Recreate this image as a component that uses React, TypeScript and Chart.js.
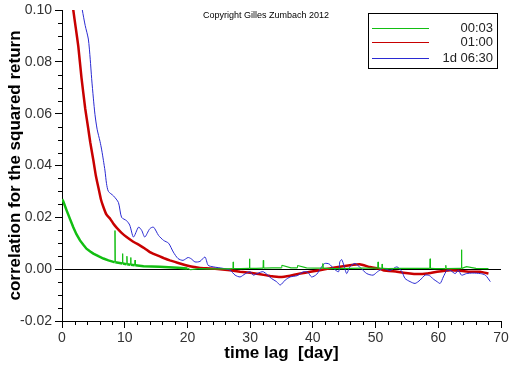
import React, { useEffect, useRef } from "react";
import { Chart, registerables } from "chart.js";

Chart.register(...registerables);

const SERIES_LABELS = ["00:03", "01:00", "1d 06:30"];
const COPYRIGHT = "Copyright Gilles Zumbach 2012";
const X_TITLE = "time lag  [day]";
const Y_TITLE = "correlation for the squared return";

const GREEN_X = [0,0.2,0.75,1.3,1.8,2.3,2.87,3.4,3.9,4.5,5.0,5.8,6.6,7.4,8.2,8.4,8.45,8.5,9.2,9.6,9.65,9.7,10.3,10.35,10.4,10.9,10.95,11.0,11.6,11.65,11.7,13.0,14.3,15.6,17.0,18.5,20.0,20.5,22.0,24.0,26.0,27.25,27.3,27.35,28.5,29.85,29.9,29.95,31.0,32.05,32.1,32.15,33.5,34.5,35.0,35.05,36.5,37.5,37.55,39.0,40.5,41.55,41.6,41.65,43.0,46.0,48.0,50.35,50.4,50.45,51.0,51.05,51.1,52.0,54.0,56.0,58.65,58.7,58.75,59.5,61.15,61.2,61.25,63.65,63.7,63.75,64.5,66.0,68.0];
const GREEN_Y = [0.0270,0.0262,0.0226,0.0192,0.0162,0.0135,0.0111,0.0094,0.0079,0.0068,0.0060,0.0050,0.0041,0.0034,0.0028,0.0027,0.0149,0.0027,0.0024,0.0022,0.0060,0.0022,0.0019,0.0050,0.0019,0.0017,0.0045,0.0017,0.0015,0.0035,0.0015,0.0011,0.0010,0.0009,0.0007,0.0005,0.0003,-0.0002,0.0002,0.0001,0.0001,0.0002,0.0028,0.0002,0.0002,0.0003,0.0040,0.0003,0.0003,0.0004,0.0034,0.0004,0.0005,0.0005,0.0005,0.0015,0.0005,0.0005,0.0014,0.0005,0.0004,0.0004,0.0022,0.0004,0.0002,0.0003,0.0004,0.0004,0.0028,0.0004,0.0003,0.0020,0.0003,0.0002,0.0003,0.0003,0.0003,0.0040,0.0003,0.0002,0.0002,0.0015,0.0002,0.0003,0.0075,0.0003,0.0010,0.0003,0.0002];

const RED_X = [1.5,1.8,2.2,2.6,3.1,3.7,4.2,4.5,5.0,5.4,5.8,6.2,6.6,7.1,7.7,8.2,8.7,9.5,10.3,11.3,12.4,13.2,14.0,14.8,15.6,16.4,17.2,18.0,18.8,19.6,20.4,21.2,22.0,23.6,25.2,26.8,28.4,30.0,31.6,33.2,34.8,36.4,38.0,39.6,41.1,42.7,44.3,45.9,47.5,49.1,50.4,51.2,53.4,55.5,56.6,58.2,59.8,61.9,63.5,65.1,66.7,68.0];
const RED_Y = [0.108,0.100,0.093,0.086,0.074,0.062,0.054,0.049,0.042,0.036,0.0315,0.027,0.024,0.021,0.0194,0.0175,0.016,0.014,0.0124,0.0107,0.0092,0.0080,0.0066,0.0057,0.0049,0.0041,0.0034,0.0028,0.0022,0.0016,0.0011,0.0008,0.0005,0.0003,0.0000,-0.0004,-0.0010,-0.0014,-0.0020,-0.0026,-0.0030,-0.0025,-0.0017,-0.0010,-0.0004,0.0003,0.0009,0.0015,0.0019,0.0008,0.0003,-0.0004,-0.0010,-0.0017,-0.0019,-0.0017,-0.0010,-0.0004,-0.0006,-0.0010,-0.0010,-0.0017];

const BLUE_X = [3.0,3.24,3.7,4.2,4.5,4.73,5.0,5.26,5.6,6.06,6.33,6.6,6.86,7.1,7.4,8.2,9.0,9.5,10.3,10.8,11.4,12.2,12.7,13.2,14.0,14.6,15.4,16.2,17.0,17.75,18.5,19.3,20.1,20.6,21.2,22.0,22.8,23.3,24.1,25.7,26.8,27.6,28.4,29.2,30.0,30.5,31.2,32.1,33.4,34.2,34.8,35.6,36.4,37.5,38.5,39.2,39.8,40.6,41.4,41.9,42.6,43.3,44.1,44.3,44.6,45.0,45.4,45.9,46.7,47.6,48.6,49.6,50.3,51.2,52.3,53.4,54.2,54.7,55.5,56.3,57.1,57.9,58.6,59.2,59.8,60.3,60.8,61.4,62.0,62.7,63.2,63.7,64.5,65.5,66.7,67.5,68.3];
const BLUE_Y = [0.104,0.100,0.094,0.0888,0.081,0.0735,0.066,0.0596,0.054,0.0493,0.046,0.042,0.0379,0.033,0.030,0.0283,0.0257,0.020,0.0187,0.017,0.0124,0.0162,0.0150,0.0124,0.0156,0.0162,0.0130,0.0111,0.0100,0.0066,0.0041,0.0034,0.0045,0.0040,0.0028,0.0030,0.0047,0.0015,0.0009,0.0003,-0.0004,-0.0023,-0.0030,-0.0018,-0.0010,-0.0023,-0.0016,-0.0010,-0.0036,-0.0048,-0.0061,-0.0042,-0.0030,-0.0025,-0.0010,-0.0012,-0.0030,-0.0020,0.0009,0.0022,0.0020,0.0003,-0.0010,0.0028,0.0037,0.0010,-0.0017,0.0009,0.0022,0.0005,-0.0017,-0.0023,-0.0010,0.0003,-0.0005,0.0009,-0.0010,-0.0036,-0.0048,-0.0055,-0.0042,-0.0023,-0.0025,-0.0038,-0.0048,-0.0055,-0.0030,-0.0004,-0.0006,-0.0017,-0.0004,-0.0023,-0.0017,-0.0015,-0.0017,-0.0023,-0.0048];

const COLORS = ["#12be12", "#c80000", "#2a2ad2"];
const FONT = "'Liberation Sans', Arial, sans-serif";

const pts = (xs: number[], ys: number[]) =>
  xs.slice(0, Math.min(xs.length, ys.length)).map((x, i) => ({ x, y: ys[i] }));

const decorPlugin = {
  id: "decor",
  afterDraw(chart: any) {
    const { ctx, chartArea, scales } = chart;
    const xs = scales.x;
    const ys = scales.y;
    ctx.save();
    // minor ticks
    ctx.fillStyle = "#000";
    for (let v = 0; v <= 70; v += 2) {
      if (v % 10 === 0) continue;
      const px = Math.round(xs.getPixelForValue(v));
      ctx.fillRect(px, chartArea.bottom, 1, 4);
    }
    for (let k = -4; k <= 20; k++) {
      if (k % 4 === 0) continue;
      const py = Math.round(ys.getPixelForValue(k * 0.005));
      ctx.fillRect(chartArea.left - 4, py, 4, 1);
    }

    // copyright
    ctx.fillStyle = "#000";
    ctx.font = `9px ${FONT}`;
    ctx.textAlign = "center";
    ctx.textBaseline = "middle";
    ctx.fillText(COPYRIGHT, 266, 16);

    // legend box
    ctx.fillStyle = "#fff";
    ctx.fillRect(369, 14, 128, 54);
    ctx.fillStyle = "#000";
    ctx.fillRect(368, 13, 130, 1);
    ctx.fillRect(368, 68, 130, 1);
    ctx.fillRect(368, 13, 1, 56);
    ctx.fillRect(497, 13, 1, 56);
    const rows = [28, 42, 58];
    for (let i = 0; i < SERIES_LABELS.length; i++) {
      const y = rows[i];
      ctx.fillStyle = COLORS[i];
      ctx.fillRect(372, y, 57, 1);
      ctx.fillStyle = "#222";
      ctx.font = `13px ${FONT}`;
      ctx.textAlign = "right";
      ctx.textBaseline = "middle";
      ctx.fillText(SERIES_LABELS[i], 493, y + 0.5);
    }
    ctx.restore();
  },
};

export default function App() {
  const ref = useRef<HTMLCanvasElement | null>(null);
  useEffect(() => {
    if (!ref.current) return;
    const chart = new Chart(ref.current, {
      type: "line",
      data: {
        datasets: [
          {
            label: SERIES_LABELS[0],
            data: pts(GREEN_X, GREEN_Y),
            borderColor: COLORS[0],
            backgroundColor: COLORS[0],
            borderWidth: 1,
            pointRadius: 0,
            tension: 0,
            order: 0,
            segment: {
              borderWidth: (c: any) => {
                const dx = c.p1.parsed.x - c.p0.parsed.x;
                const dy = Math.abs(c.p1.parsed.y - c.p0.parsed.y);
                if (dx < 0.1 && dy > 0.0008) return 1;
                return c.p0.parsed.x < 20 ? 2.5 : 1.2;
              },
            },
          },
          {
            label: SERIES_LABELS[1],
            data: pts(RED_X, RED_Y),
            borderColor: COLORS[1],
            backgroundColor: COLORS[1],
            borderWidth: 2.5,
            pointRadius: 0,
            tension: 0.1,
            order: 2,
          },
          {
            label: SERIES_LABELS[2],
            data: pts(BLUE_X, BLUE_Y),
            borderColor: COLORS[2],
            backgroundColor: COLORS[2],
            borderWidth: 1,
            pointRadius: 0,
            tension: 0.25,
            order: 1,
          },
        ],
      },
      options: {
        animation: false,
        responsive: false,
        layout: { padding: { left: 0, top: 7, right: 11, bottom: 0 } },
        plugins: { legend: { display: false }, tooltip: { enabled: false }, title: { display: false } },
        scales: {
          x: {
            type: "linear",
            min: 0,
            max: 70,
            border: { display: true, color: "#000", width: 1 },
            grid: { drawOnChartArea: false, drawTicks: true, tickLength: 7, tickColor: "#000" },
            ticks: {
              stepSize: 10,
              color: "#333",
              padding: 3,
              font: { family: FONT, size: 14, lineHeight: 1 },
              maxRotation: 0,
              callback: (v: any) => String(v),
            },
            title: {
              display: true,
              text: X_TITLE,
              color: "#000",
              font: { family: FONT, size: 17, weight: "bold" },
              padding: { top: 0, bottom: 2 },
            },
            afterFit: (s: any) => { s.height = 45; },
          },
          y: {
            type: "linear",
            min: -0.02,
            max: 0.1,
            border: { display: true, color: "#000", width: 1 },
            grid: {
              drawOnChartArea: true,
              drawTicks: true,
              tickLength: 7,
              tickColor: "#000",
              color: (c: any) => (c.tick && Math.abs(c.tick.value) < 1e-9 ? "#000" : "rgba(0,0,0,0)"),
            },
            ticks: {
              stepSize: 0.02,
              color: "#333",
              padding: 3,
              font: { family: FONT, size: 14, lineHeight: 1 },
              callback: (v: any) => Number(v).toFixed(2),
            },
            title: {
              display: true,
              text: Y_TITLE,
              color: "#000",
              font: { family: FONT, size: 17, weight: "bold" },
              padding: { top: 5, bottom: 0 },
            },
            afterFit: (s: any) => { s.width = 62; },
          },
        },
      },
      plugins: [decorPlugin],
    } as any);
    return () => chart.destroy();
  }, []);
  return (
    <div style={{ position: "absolute", left: 0, top: 0, width: 512, height: 366, background: "#fff" }}>
      <canvas ref={ref} width={512} height={366} style={{ display: "block" }} />
    </div>
  );
}
